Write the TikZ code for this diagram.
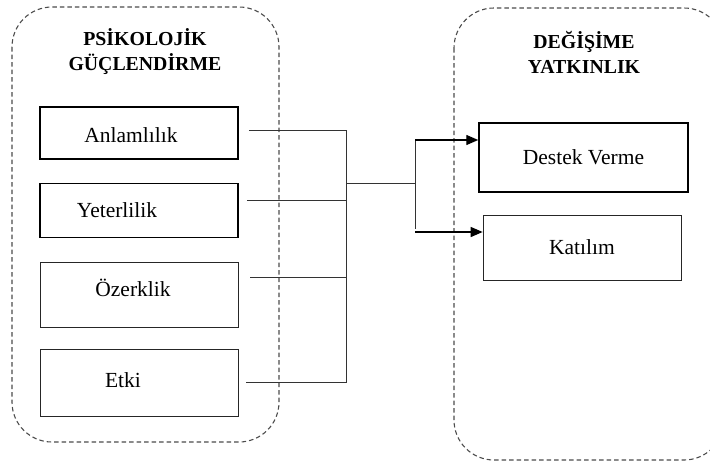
\documentclass[tikz,border=0pt]{standalone}
\usepackage{fontspec}
\setmainfont{Liberation Serif}
\usetikzlibrary{arrows.meta}

\begin{document}
\begin{tikzpicture}[x=1pt, y=-1pt,
  every node/.style = {shape=rectangle, inner sep=0pt, align=center,
    font=\fontsize{21.5}{25}\selectfont},
  kutu/.style = {draw=black!85, line width=0.7pt},
  kalin/.style = {draw, line width=1.5pt},
  baslik/.style = {font=\fontsize{19.8}{25}\selectfont\bfseries},
  grup/.style = {draw=black!70, dash pattern=on 4.5pt off 3pt,
    line width=1.1pt, rounded corners=40pt},
  hat/.style = {draw=black!80, line width=0.8pt},
  ok/.style = {line width=1.4pt, -{Triangle[length=12pt,width=10pt]}}]
  \useasboundingbox (0,0) rectangle (710,461);
  % dis cerceveler
  \draw[grup] (12,7) rectangle (279,442);
  \draw[grup] (454,8) rectangle (724,460);
  \node[baslik] (pg) at (145,52) {PSİKOLOJİK\\GÜÇLENDİRME};
  \node[baslik] (dy) at (584,52) {DEĞİŞİME\\YATKINLIK};
  % boyutlar
  \node[kalin, minimum width=198pt, minimum height=52pt,
    label={[xshift=-8pt,yshift=-2pt]center:Anlamlılık}] (anl) at (139,133) {};
  \node[kalin, minimum width=198pt, minimum height=54pt,
    label={[xshift=-22pt]center:Yeterlilik}] (yet) at (139,210.5) {};
  \node[kutu, minimum width=198pt, minimum height=65pt,
    label={[xshift=-6pt,yshift=7pt]center:Özerklik}] (oze) at (139,294.5) {};
  \node[kutu, minimum width=198pt, minimum height=67pt,
    label={[xshift=-16pt,yshift=2pt]center:Etki}] (etk) at (139,382.5) {};
  \node[kalin, minimum width=209pt, minimum height=69pt] (dest) at (583.5,157.5) {Destek Verme};
  \node[kutu, minimum width=198pt, minimum height=65pt] (kat) at (582,247.5) {Katılım};
  % baglantilar
  \coordinate (jl) at (346,183);
  \coordinate (jr) at (415,183);
  \coordinate (ju) at (415,140);
  \coordinate (jd) at (415,229);
  \draw[hat] ([xshift=10pt,yshift=3pt]anl.east) -| (jl);
  \draw[hat] ([xshift=8pt,yshift=10.5pt]yet.east) -| (jl);
  \draw[hat] ([xshift=12pt,yshift=17.5pt]oze.east) -| (jl);
  \draw[hat] ([xshift=8pt]etk.east) -| (jl);
  \draw[hat] (jl) -- (jr);
  \draw[hat] (ju) -- (jd);
  \draw[ok] (ju) -- ([yshift=17.5pt]dest.west);
  \draw[ok] ([yshift=15.5pt]kat.west -| jd) -- ([yshift=15.5pt]kat.west);
\end{tikzpicture}
\end{document}
